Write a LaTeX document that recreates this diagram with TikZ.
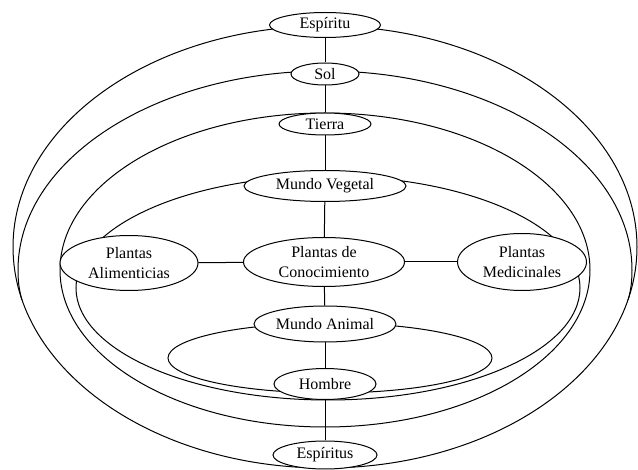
\documentclass[tikz,border=0pt]{standalone}
\usepackage{fontspec}
\setmainfont{Liberation Serif}
\usetikzlibrary{shapes.geometric}
\begin{document}
\begin{tikzpicture}[x=1pt,y=-1pt,
  oval/.style={ellipse, draw=black, line width=1pt, fill=white, inner sep=0pt,
    font=\fontsize{16}{19.5}\selectfont, align=center},
  ring/.style={draw=black, line width=1pt},
  link/.style={draw=black, line width=1pt}]
\useasboundingbox (0,0) rectangle (638,470);
% big curves
\draw[ring] (325,247) ellipse [x radius=312pt, y radius=221pt];
% Sol curve: upper half, then it joins the outer curve on both sides
\draw[ring] (22,300) .. controls (20,293) and (18,285) .. (18,270)
  arc [start angle=180, end angle=0, x radius=307pt, y radius=199pt]
  .. controls (632,285) and (630,293) .. (628,300);
\draw[ring] (325,270) ellipse [x radius=265pt, y radius=157pt];
\draw[ring] (328,288) ellipse [x radius=252pt, y radius=112pt];
\draw[ring] (330,358) ellipse [x radius=162pt, y radius=35pt];
% nodes
\node[oval, minimum width=111pt, minimum height=25pt] (esp) at (325,25) {Espíritu};
\node[oval, minimum width=68pt, minimum height=22pt] (sol) at (325,74) {Sol};
\node[oval, minimum width=92pt, minimum height=22pt] (tierra) at (325,124) {Tierra};
\node[oval, minimum width=162pt, minimum height=31pt] (mv) at (325,186) {Mundo Vegetal};
\node[oval, minimum width=161pt, minimum height=49pt] (conoc) at (324,262) {Plantas de\\Conocimiento};
\node[oval, minimum width=138pt, minimum height=55pt] (alim) at (129,263) {Plantas\\Alimenticias};
\node[oval, minimum width=129pt, minimum height=57pt] (med) at (522,262) {Plantas\\Medicinales};
\node[oval, minimum width=142pt, minimum height=36pt] (ma) at (325,324) {Mundo Animal};
\node[oval, minimum width=102pt, minimum height=31pt] (hombre) at (325,384) {Hombre};
\node[oval, minimum width=104pt, minimum height=28pt] (espts) at (325,455) {Espíritus};
% connectors
\draw[link] (esp) -- (sol);
\draw[link] (sol) -- (tierra);
\draw[link] (tierra) -- (mv);
\draw[link] (mv) -- (conoc);
\draw[link] (conoc) -- (ma);
\draw[link] (ma) -- (hombre);
\draw[link] (hombre) -- (espts);
\draw[link] (alim) -- (conoc);
\draw[link] (conoc) -- (med);
\end{tikzpicture}
\end{document}
